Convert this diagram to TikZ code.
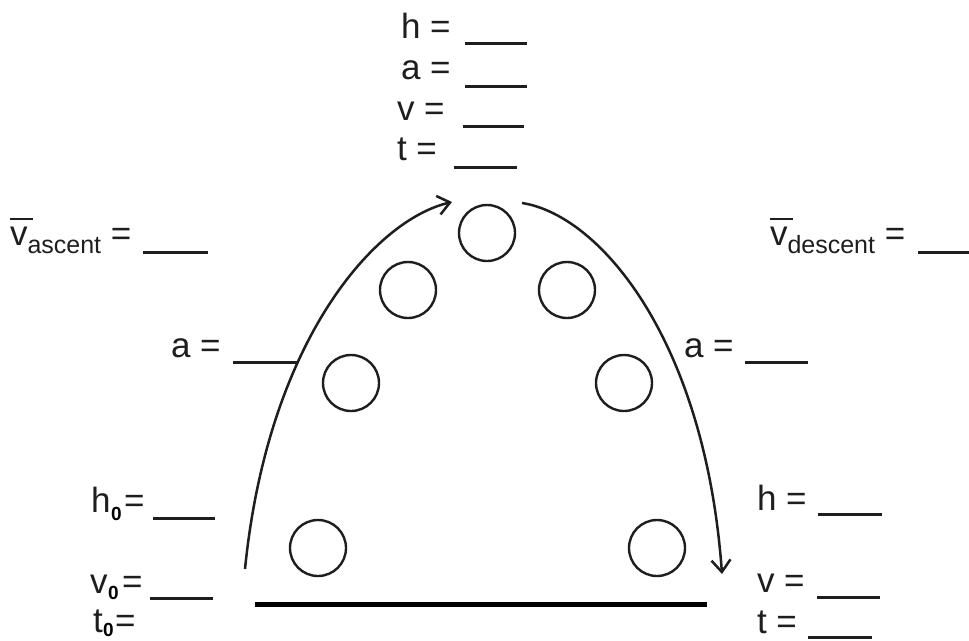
\documentclass[tikz,border=0pt]{standalone}
\usepackage{fontspec}
\setmainfont{Liberation Sans}
\usetikzlibrary{arrows.meta}
\definecolor{ink}{HTML}{1E1E1E}
\newcommand\vbarglyph{\rlap{\raisebox{25pt}{\rule{23pt}{2.5pt}}}v}
\tikzset{
  lbl/.style={anchor=base west, inner sep=0pt, outer sep=0pt, font=\fontsize{35}{40}\selectfont, text=ink},
  zero/.style={anchor=base west, inner sep=0pt, outer sep=0pt, font=\fontsize{19}{20}\selectfont\bfseries, text=black},
  blank/.style={line width=3pt, draw=ink},
  ball/.style={circle, draw=ink, line width=2.4pt, minimum size=56pt, inner sep=0pt},
  traj/.style={line width=2.5pt, draw=ink, -{Straight Barb[length=12pt,width=19pt,line width=2.5pt]}},
  ground/.style={line width=5pt, draw=black}
}
\begin{document}
\begin{tikzpicture}[x=1pt,y=-1pt]
\useasboundingbox[fill=white] (0,0) rectangle (969,640);

% top labels
\node[lbl] (th) at (401,38) {h =};
\node[lbl] (ta) at (401,79) {a =};
\node[lbl] (tv) at (397,120) {v =};
\node[lbl] (tt) at (397,160) {t =};
\draw[blank] (465,43) -- (527,43);
\draw[blank] (465,86) -- (527,86);
\draw[blank] (463,126) -- (524,126);
\draw[blank] (454,167) -- (517,167);

% average velocities
\node[lbl] (vasc) at (10,245) {\vbarglyph\raisebox{-8pt}{\fontsize{25}{30}\selectfont ascent} =};
\draw[blank] (143,252) -- (208,252);
\node[lbl] (vdesc) at (770,245) {\vbarglyph\raisebox{-8pt}{\fontsize{25}{30}\selectfont descent} =};
\draw[blank] (918,252) -- (969,252);

% accelerations
\node[lbl] (al) at (171,357) {a =};
\draw[blank] (233,362) -- (297,362);
\node[lbl] (ar) at (684,357) {a =};
\draw[blank] (745,362) -- (808,362);

% initial values
\node[lbl] (h0) at (91,512) {h};
\node[zero] (h0s) at (111,520) {0};
\node[lbl] (h0e) at (124,512) {=};
\draw[blank] (153,518) -- (215,518);
\node[lbl] (v0) at (90,593) {v};
\node[zero] (v0s) at (108,599) {0};
\node[lbl] (v0e) at (122,593) {=};
\draw[blank] (150,598) -- (213,598);
\node[lbl] (t0) at (93,632) {t};
\node[zero] (t0s) at (103,636) {0};
\node[lbl] (t0e) at (115,632) {=};

% final values
\node[lbl] (hf) at (757,510) {h =};
\draw[blank] (818,514) -- (882,514);
\node[lbl] (vf) at (757,592) {v =};
\draw[blank] (817,597) -- (880,597);
\node[lbl] (tf) at (757,633) {t =};
\draw[blank] (808,637) -- (872,637);

% balls
\node[ball] (b1) at (318,548) {};
\node[ball] (b2) at (351,383) {};
\node[ball] (b3) at (408,290) {};
\node[ball] (b4) at (487,233) {};
\node[ball] (b5) at (567,290) {};
\node[ball] (b6) at (624,383) {};
\node[ball] (b7) at (657,548) {};

% trajectory arrows
\coordinate (ls) at (245,569);
\coordinate (le) at (452,202);
\coordinate (rs) at (522,203);
\coordinate (re) at (722,574);
\draw[traj] (ls) .. controls (268,340) and (375,220) .. (le);
\draw[traj] (rs) .. controls (600,215) and (705,340) .. (re);

% ground
\draw[ground] (255,604) -- (707,604);
\end{tikzpicture}
\end{document}
